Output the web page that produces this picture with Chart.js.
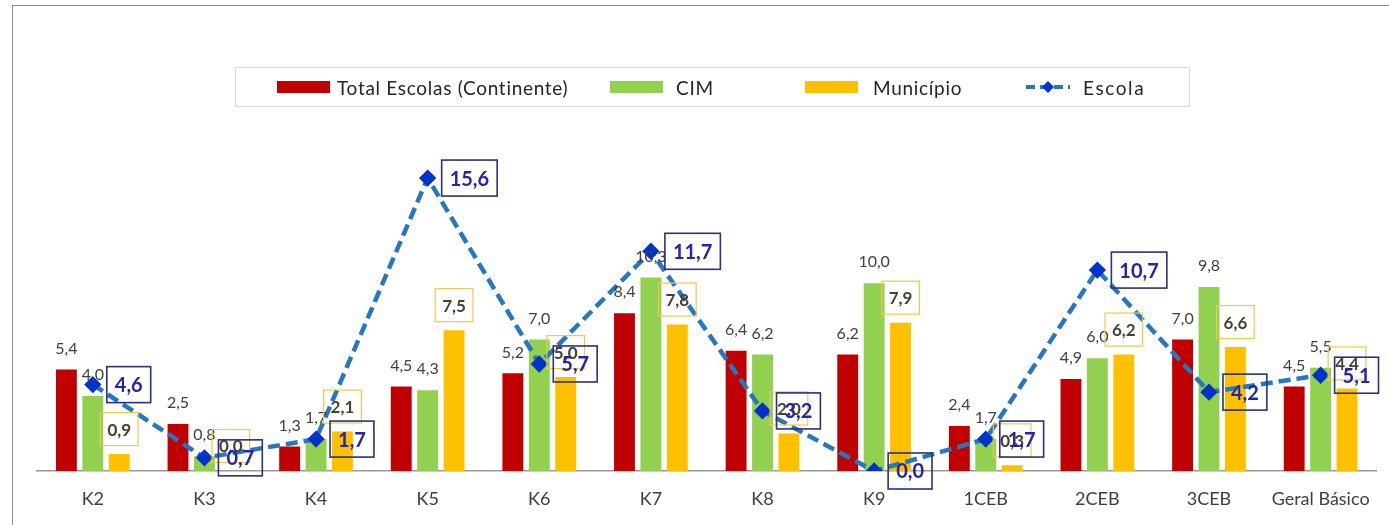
<!DOCTYPE html>
<html>
<head>
<meta charset="utf-8">
<script src="https://cdn.jsdelivr.net/npm/chart.js@4.4.1/dist/chart.umd.min.js"></script>
<style>
  html, body { margin: 0; padding: 0; background: #fff; }
  #wrap { position: relative; width: 1389px; height: 525px; overflow: hidden; }
  #frame { position: absolute; left: 12px; top: 5px; width: 1400px; height: 540px; border: 1.5px solid #8c8c8c; box-sizing: border-box; }
  #legend { position: absolute; left: 235px; top: 67px; width: 955px; height: 40px; border: 1px solid #d9d9d9; box-sizing: border-box; font-family: Lato, "Open Sans", sans-serif; font-size: 19px; letter-spacing: 0.7px; color: #262626; }
  .item { position: absolute; top: 0; height: 38px; display: flex; align-items: center; }
  .sw { width: 53px; height: 12px; }
  canvas { position: absolute; left: 0; top: 0; }
</style>
</head>
<body>
<div id="wrap">
  <div id="frame"></div>
  <canvas id="chart" width="1389" height="530"></canvas>
  <div id="legend"></div>
</div>
<script>
const categories = ['K2', 'K3', 'K4', 'K5', 'K6', 'K7', 'K8', 'K9', '1CEB', '2CEB', '3CEB', 'Geral Básico'];
const totalEscolas = [5.4, 2.5, 1.3, 4.5, 5.2, 8.4, 6.4, 6.2, 2.4, 4.9, 7.0, 4.5];
const cim = [4.0, 0.8, 1.7, 4.3, 7.0, 10.3, 6.2, 10.0, 1.7, 6.0, 9.8, 5.5];
const municipio = [0.9, 0.0, 2.1, 7.5, 5.0, 7.8, 2.0, 7.9, 0.3, 6.2, 6.6, 4.4];
const escola = [4.6, 0.7, 1.7, 15.6, 5.7, 11.7, 3.2, 0.0, 1.7, 10.7, 4.2, 5.1];

const seriesNames = ['Total Escolas (Continente)', 'CIM', 'Município', 'Escola'];
const RED = '#C00000', GREEN = '#92D050', YELLOW = '#FFC000';
const LINE = '#2677BE', MARK = '#0033CC';
const FONT = 'Lato, "Open Sans", sans-serif';

const fmt = v => v.toFixed(1).replace('.', ',');

// legend (html, since it has a box and uneven spacing)
const legendItems = [
  { left: 41, gap: 7, text: seriesNames[0], color: RED },
  { left: 374, gap: 13, text: seriesNames[1], color: GREEN },
  { left: 569, gap: 15, text: seriesNames[2], color: YELLOW },
  { left: 789, gap: 12, text: seriesNames[3], line: true }
];
const legendEl = document.getElementById('legend');
legendItems.forEach(it => {
  const d = document.createElement('div');
  d.className = 'item';
  d.style.left = it.left + 'px';
  if (it.line) {
    d.innerHTML = '<svg width="46" height="14" style="margin-right:' + it.gap + 'px"><line x1="1" y1="7" x2="45" y2="7" stroke="' + LINE + '" stroke-width="4" stroke-dasharray="9,5"/><path d="M23 1 L29 7 L23 13 L17 7 Z" fill="' + MARK + '"/></svg><span style="letter-spacing:1.6px">' + it.text + '</span>';
  } else {
    d.innerHTML = '<div class="sw" style="background:' + it.color + ';margin-right:' + it.gap + 'px"></div><span>' + it.text + '</span>';
  }
  legendEl.appendChild(d);
});

const labelPlugin = {
  id: 'valueLabels',
  afterDatasetsDraw(chart) {
    const ctx = chart.ctx;
    ctx.save();
    ctx.textAlign = 'center';
    ctx.textBaseline = 'middle';
    // plain labels for total and CIM
    [0, 1].forEach(di => {
      const meta = chart.getDatasetMeta(di);
      ctx.font = '16px ' + FONT;
      ctx.fillStyle = '#404040';
      meta.data.forEach((bar, i) => {
        ctx.fillText(fmt(chart.data.datasets[di].data[i]), bar.x, bar.y - 21);
      });
    });
    // boxed labels for Município
    const mMeta = chart.getDatasetMeta(2);
    ctx.font = 'bold 17px ' + FONT;
    mMeta.data.forEach((bar, i) => {
      const t = fmt(municipio[i]);
      const w = ctx.measureText(t).width + 14;
      const h = 33;
      const cy = bar.y - 25;
      ctx.strokeStyle = '#F2C84B';
      ctx.lineWidth = 1.2;
      ctx.strokeRect(bar.x - w / 2, cy - h / 2, w, h);
      ctx.fillStyle = '#4a4030';
      ctx.fillText(t, bar.x, cy + 1);
    });
    // boxed labels for Escola
    const eMeta = chart.getDatasetMeta(3);
    ctx.font = 'bold 20px ' + FONT;
    eMeta.data.forEach((pt, i) => {
      const t = fmt(escola[i]);
      const w = ctx.measureText(t).width + 16;
      const h = 36;
      const x0 = pt.x + 14;
      ctx.strokeStyle = '#29327A';
      ctx.lineWidth = 1.6;
      ctx.strokeRect(x0, pt.y - h / 2, w, h);
      ctx.fillStyle = '#2525A8';
      ctx.fillText(t, x0 + w / 2, pt.y + 1);
    });
    ctx.restore();
  }
};

new Chart(document.getElementById('chart'), {
  data: {
    labels: categories,
    datasets: [
      { type: 'bar', label: seriesNames[0], data: totalEscolas, backgroundColor: RED, order: 2,
        categoryPercentage: 0.71, barPercentage: 0.79 },
      { type: 'bar', label: seriesNames[1], data: cim, backgroundColor: GREEN, order: 2,
        categoryPercentage: 0.71, barPercentage: 0.79 },
      { type: 'bar', label: seriesNames[2], data: municipio, backgroundColor: YELLOW, order: 2,
        categoryPercentage: 0.71, barPercentage: 0.79 },
      { type: 'line', label: seriesNames[3], data: escola, order: 1,
        borderColor: LINE, borderWidth: 4.5, borderDash: [12, 6], tension: 0,
        pointStyle: 'rectRot', pointRadius: 5.5, pointBackgroundColor: MARK, pointBorderColor: MARK }
    ]
  },
  options: {
    responsive: false,
    animation: false,
    devicePixelRatio: 1,
    layout: { padding: { left: 37, right: 4, top: 133, bottom: 3 } },
    plugins: { legend: { display: false }, tooltip: { enabled: false } },
    scales: {
      x: {
        grid: { display: false, drawTicks: false },
        border: { display: true, color: '#9a9a9a', width: 1.5 },
        ticks: { color: '#404040', font: { family: FONT, size: 18, lineHeight: 1 }, padding: 19 }
      },
      y: {
        display: false,
        min: 0,
        max: 18
      }
    }
  },
  plugins: [labelPlugin]
});
</script>
</body>
</html>
